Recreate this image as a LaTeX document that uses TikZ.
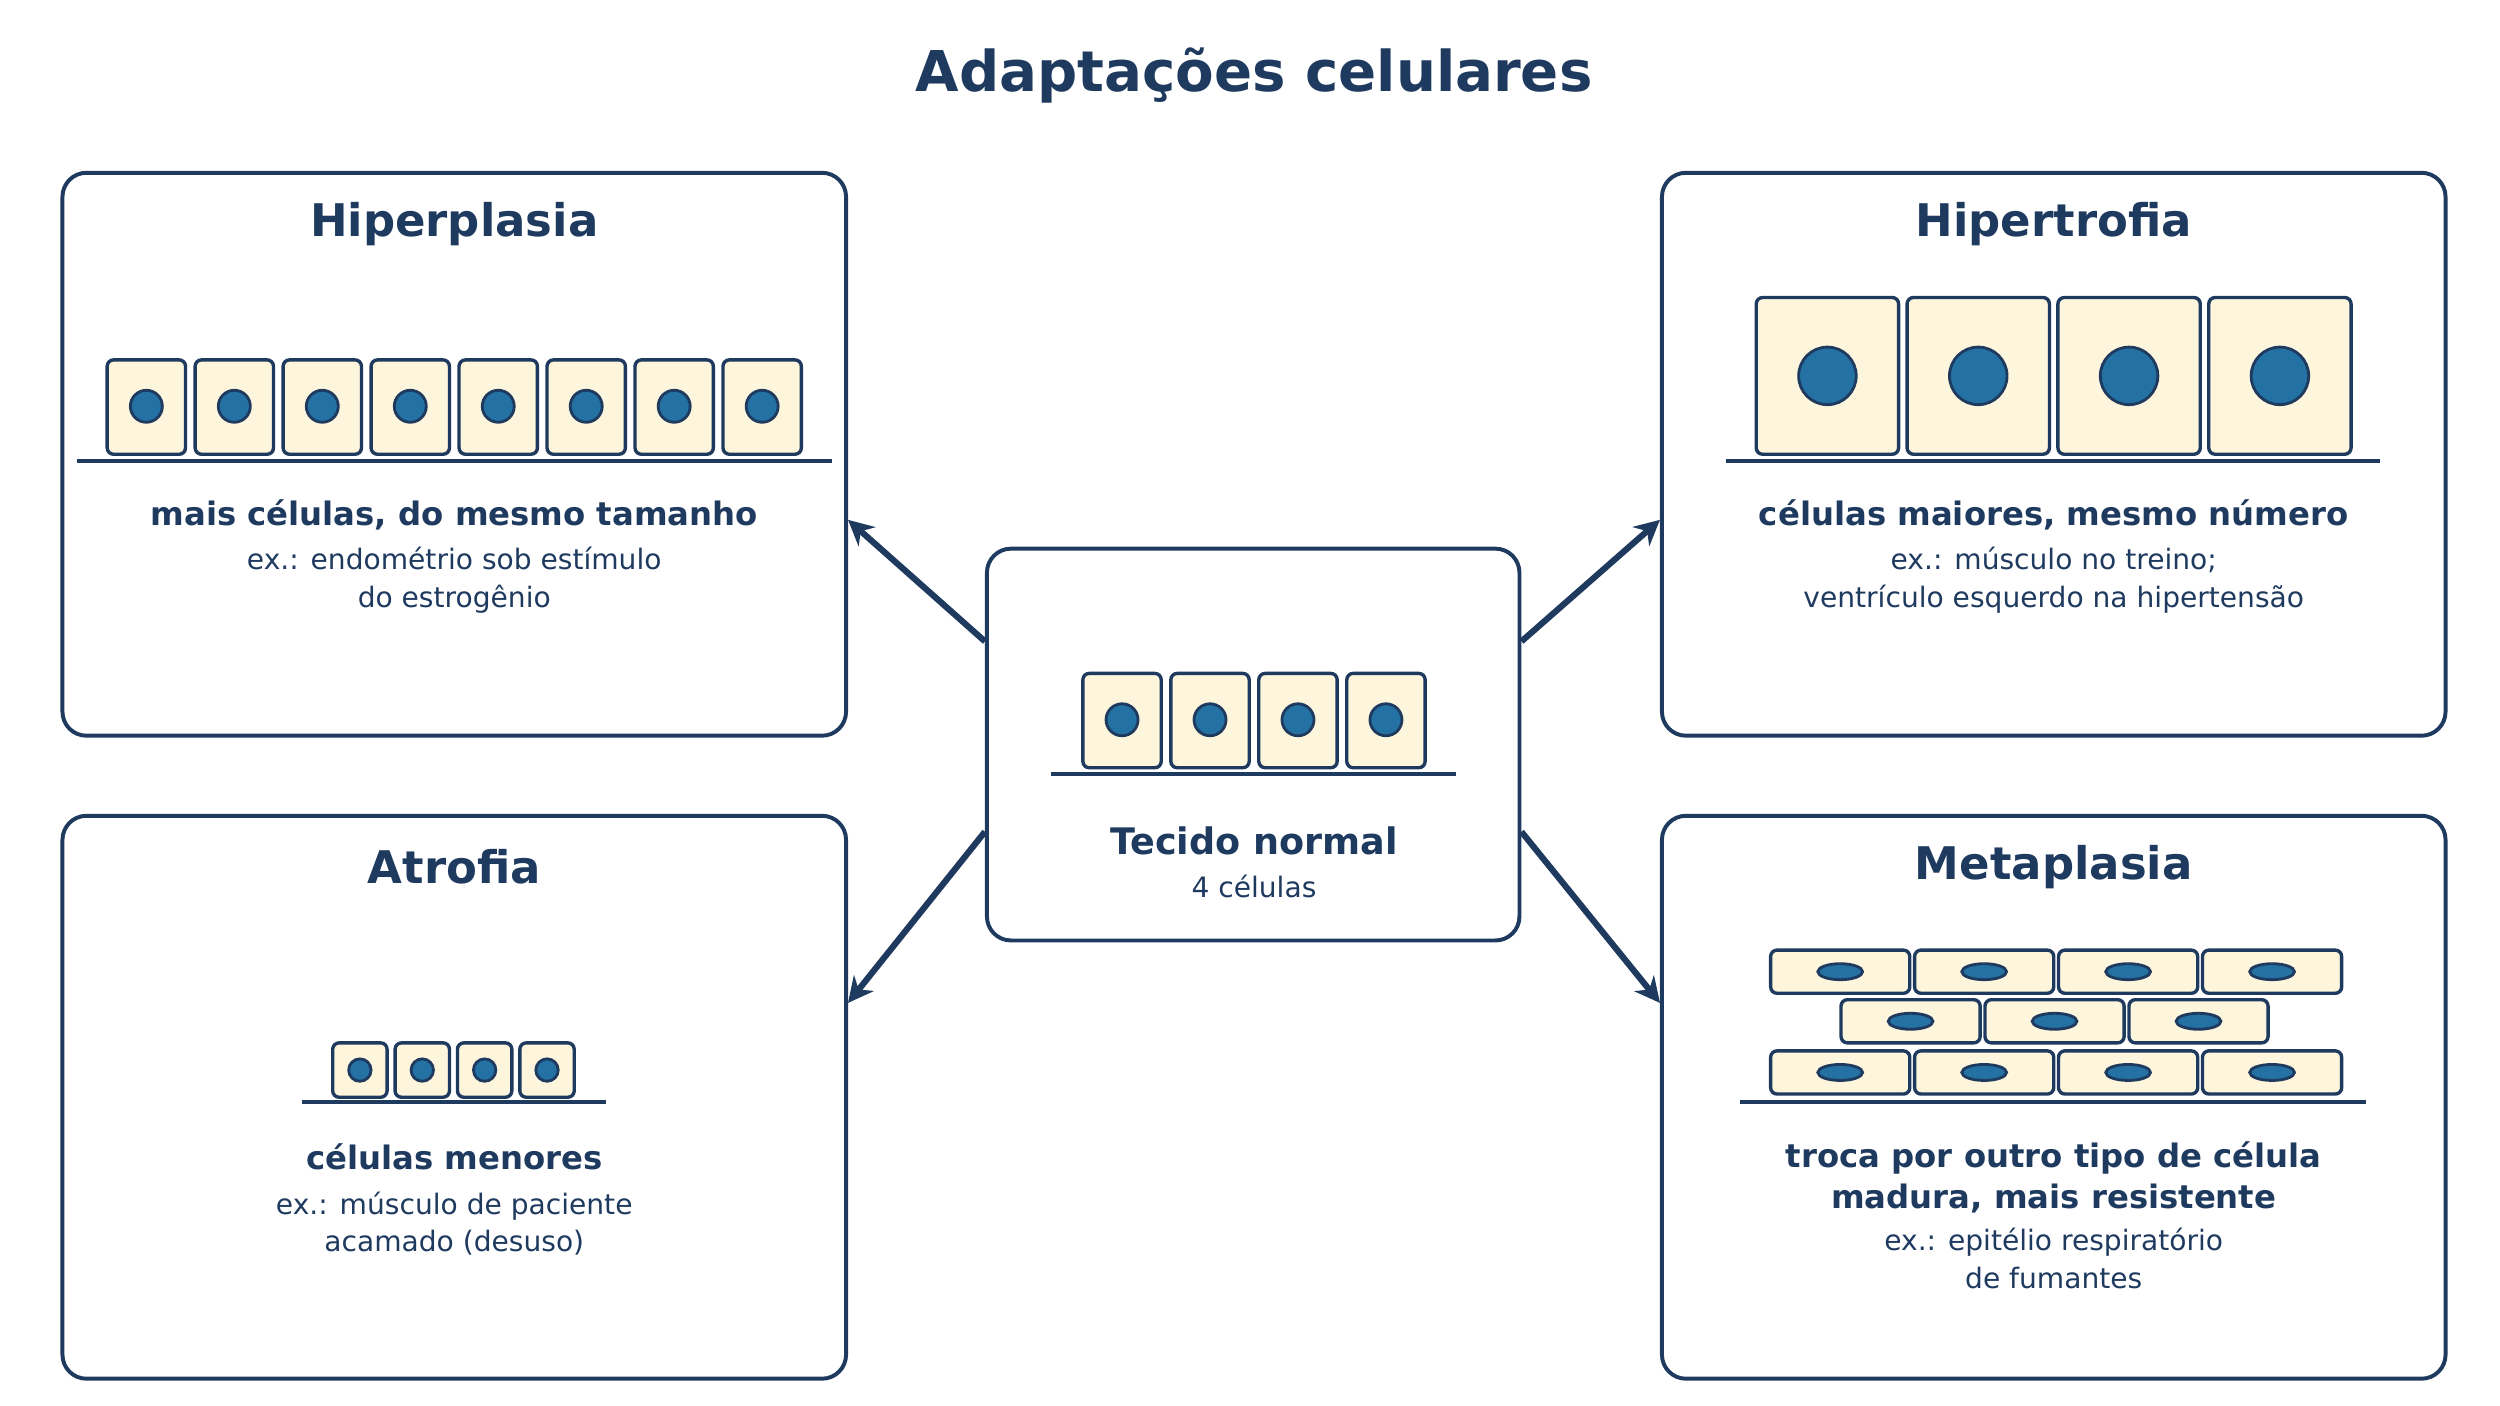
\documentclass[tikz,border=0pt]{standalone}
\usepackage{fontspec}
\setmainfont{DejaVu Sans}
\usetikzlibrary{arrows.meta}
\definecolor{navy}{HTML}{1F3A5F}
\definecolor{cellfill}{HTML}{FDF5DC}
\definecolor{nucl}{HTML}{2471A3}
\tikzset{
  box/.style={draw=navy,line width=1.4pt,rounded corners=0.3cm,minimum width=9.8cm,minimum height=7.04cm},
  cell/.style={draw=navy,fill=cellfill,line width=1.2pt,rounded corners=0.08cm},
  nuc/.style={draw=navy,fill=nucl,line width=1pt},
  base/.style={draw=navy,line width=1.4pt},
  arr/.style={draw=navy,line width=2.2pt,-{Stealth[length=9pt,width=9pt]}},
  head/.style={text=navy,font=\bfseries\fontsize{16}{18}\selectfont},
  sub/.style={text=navy,font=\bfseries\fontsize{11.5}{14.5}\selectfont,align=center},
  note/.style={text=navy,font=\fontsize{10}{13.5}\selectfont,align=center}
}
\begin{document}
\begin{tikzpicture}[x=0.02cm,y=-0.02cm]
	\useasboundingbox (0,0) rectangle (1563,879);
	\node[text=navy,font=\bfseries\fontsize{20}{24}\selectfont] (title) at (784,47) {Adaptações celulares};

	\node[box] (hyp) at (284,284) {};
	\node[box] (htr) at (1284,284) {};
	\node[box] (atr) at (284,686) {};
	\node[box] (met) at (1284,686) {};
	\node[box,minimum width=6.66cm,minimum height=4.9cm] (ctr) at (783.5,465.5) {};

	% celulas normais
	\foreach \i in {0,...,3}{
		\draw[cell] (677+55*\i,421) rectangle ++(49,59);
		\draw[nuc] (701.5+55*\i,450) circle (10);
	}
	\draw[base] (657,484) -- (910,484);
	\node[sub,font=\bfseries\fontsize{13}{15}\selectfont] (ctrt) at (784,526) {Tecido normal};
	\node[note] (ctrn) at (784,554) {4 células};

	% hiperplasia
	\node[head] (hypt) at (284,140) {Hiperplasia};
	\foreach \i in {0,...,7}{
		\draw[cell] (67+55*\i,225) rectangle ++(49,59);
		\draw[nuc] (91.5+55*\i,254) circle (10);
	}
	\draw[base] (48,288) -- (520,288);
	\node[sub] (hyps) at (284,322) {mais células, do mesmo tamanho};
	\node[note] (hypn) at (284,363) {ex.: endométrio sob estímulo\\do estrogênio};

	% hipertrofia
	\node[head] (htrt) at (1284,140) {Hipertrofia};
	\foreach \i in {0,...,3}{
		\draw[cell] (1098+94.3*\i,186) rectangle ++(89,98);
		\draw[nuc] (1142.5+94.3*\i,235) circle (18);
	}
	\draw[base] (1079,288) -- (1488,288);
	\node[sub] (htrs) at (1284,322) {células maiores, mesmo número};
	\node[note] (htrn) at (1284,363) {ex.: músculo no treino;\\ventrículo esquerdo na hipertensão};

	% atrofia
	\node[head] (atrt) at (284,542) {Atrofia};
	\foreach \i in {0,...,3}{
		\draw[cell] (208+39*\i,652) rectangle ++(34,34);
		\draw[nuc] (225+39*\i,669) circle (7);
	}
	\draw[base] (189,689) -- (379,689);
	\node[sub] (atrs) at (284,723) {células menores};
	\node[note] (atrn) at (284,765) {ex.: músculo de paciente\\acamado (desuso)};

	% metaplasia
	\node[head] (mett) at (1284,542) {Metaplasia};
	\foreach \i in {0,...,3}{
		\draw[cell] (1107+90*\i,594) rectangle ++(87,27);
		\draw[nuc] (1150.5+90*\i,607.5) ellipse (14 and 5);
		\draw[cell] (1107+90*\i,657) rectangle ++(87,27);
		\draw[nuc] (1150.5+90*\i,670.5) ellipse (14 and 5);
	}
	\foreach \i in {0,...,2}{
		\draw[cell] (1151+90*\i,625) rectangle ++(87,27);
		\draw[nuc] (1194.5+90*\i,638.5) ellipse (14 and 5);
	}
	\draw[base] (1088,689) -- (1479,689);
	\node[sub] (mets) at (1284,736) {troca por outro tipo de célula\\madura, mais resistente};
	\node[note] (metn) at (1284,787) {ex.: epitélio respiratório\\de fumantes};

	\draw[arr] ([yshift=1.29cm]ctr.west) -- ([yshift=-0.82cm]hyp.east);
	\draw[arr] ([yshift=-1.09cm]ctr.west) -- ([yshift=1.18cm]atr.east);
	\draw[arr] ([yshift=1.29cm]ctr.east) -- ([yshift=-0.82cm]htr.west);
	\draw[arr] ([yshift=-1.09cm]ctr.east) -- ([yshift=1.18cm]met.west);
\end{tikzpicture}
\end{document}
